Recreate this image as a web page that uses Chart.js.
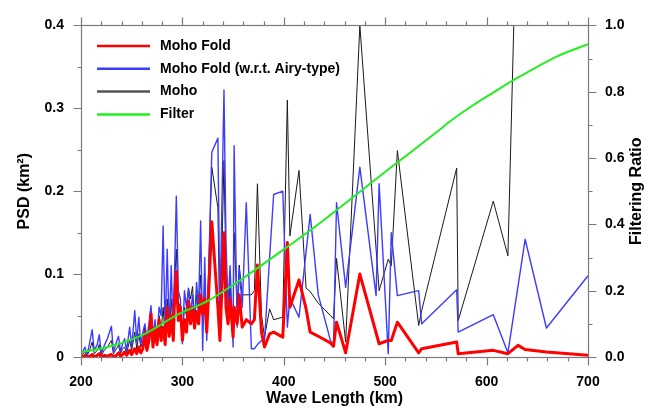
<!DOCTYPE html>
<html>
<head>
<meta charset="utf-8">
<script src="https://cdn.jsdelivr.net/npm/chart.js@4.4.0/dist/chart.umd.min.js"></script>
<style>
  html, body { margin: 0; padding: 0; background: #fff; }
  #wrap { width: 655px; height: 413px; }
</style>
</head>
<body>
<div id="wrap"><canvas id="psdChart" width="655" height="413"></canvas></div>
<script>
// Wave lengths (km) shared by the three PSD curves
const waveLength = [
  201, 204, 206, 209, 211, 213, 216, 218, 220, 223, 226, 230, 232, 235, 237, 239, 241, 243, 245, 248,
  250, 253, 255, 257, 259, 261, 263, 265, 267, 269, 271, 273, 275, 277, 279, 281, 283, 285, 287, 289,
  291, 292, 294, 296, 298, 300, 302, 304, 306, 308, 310, 312, 314, 316, 318, 320, 322, 324, 326, 329,
  335, 337, 341, 343, 345, 347, 350, 351, 354, 356, 359, 363, 368, 371, 374, 378, 381, 386, 390, 399,
  403.5, 406, 415, 422, 426, 434, 446, 449, 452, 461, 475, 491, 494, 503, 506, 512, 533, 536, 570.5, 572,
  606.6, 621, 631, 638, 659, 700
];
// PSD (km^2), null = no sample for that series
const mohoFold = [
  0.000, 0.002, 0.000, 0.001, 0.003, 0.000, 0.002, 0.004, 0.000, 0.002, 0.001, 0.003, 0.000, 0.002, 0.005, 0.001, 0.003, 0.006, 0.002, 0.008,
  0.003, 0.010, 0.004, 0.012, 0.005, 0.010, 0.030, 0.008, 0.020, 0.052, 0.012, 0.035, 0.015, 0.045, 0.020, 0.036, 0.015, 0.060, 0.025, 0.050,
  0.020, 0.060, 0.103, 0.044, 0.060, 0.020, 0.045, 0.030, 0.067, 0.040, 0.060, 0.035, 0.055, 0.040, 0.075, 0.052, 0.070, 0.030, 0.080, 0.163,
  0.060, 0.020, 0.150, 0.060, 0.040, 0.070, 0.024, 0.060, 0.040, 0.075, 0.036, 0.045, 0.040, 0.045, 0.111, 0.030, 0.012, 0.028, 0.030, 0.024,
  0.138, 0.060, 0.093, 0.058, 0.030, 0.025, 0.017, 0.013, 0.042, 0.005, 0.100, null, 0.016, 0.020, 0.020, 0.042, 0.005, 0.010, 0.018, 0.004,
  0.008, 0.004, 0.014, 0.009, 0.006, 0.002
];
const mohoFoldAiry = [
  0.005, 0.012, 0.002, 0.020, 0.033, 0.008, 0.015, 0.027, 0.004, 0.014, 0.022, 0.037, 0.006, 0.018, 0.025, 0.006, 0.016, 0.022, 0.008, 0.036,
  0.012, 0.056, 0.018, 0.048, 0.015, 0.030, 0.040, 0.022, 0.040, 0.062, 0.025, 0.045, 0.020, 0.060, 0.050, 0.158, 0.028, 0.130, 0.030, 0.110,
  0.020, 0.090, 0.194, 0.080, 0.070, 0.016, 0.080, 0.060, 0.083, 0.050, 0.075, 0.045, 0.090, 0.060, 0.164, 0.008, 0.120, 0.020, 0.110, 0.247,
  0.264, 0.052, 0.322, 0.140, 0.060, 0.110, 0.012, 0.255, 0.036, 0.107, 0.060, 0.186, 0.010, 0.010, 0.015, 0.020, 0.020, 0.120, 0.196, 0.200,
  0.036, 0.071, 0.048, null, 0.172, 0.075, 0.020, 0.012, 0.186, 0.084, 0.229, 0.074, 0.209, 0.004, 0.150, 0.074, 0.080, 0.040, 0.081, 0.030,
  0.051, 0.005, null, 0.142, 0.035, 0.098
];
const moho = [
  0.003, 0.006, 0.001, 0.010, 0.018, 0.004, 0.008, 0.015, 0.002, 0.008, 0.012, 0.020, 0.004, 0.010, 0.014, 0.004, 0.010, 0.012, 0.005, 0.020,
  0.008, 0.030, 0.010, 0.028, 0.012, 0.018, 0.035, 0.015, 0.030, 0.055, 0.020, 0.040, 0.018, 0.050, 0.030, 0.060, 0.025, 0.070, 0.028, 0.070,
  0.030, 0.085, 0.130, 0.060, 0.065, 0.025, 0.060, 0.050, 0.083, 0.070, 0.085, 0.040, 0.075, 0.050, 0.099, 0.040, 0.090, 0.030, 0.110, 0.229,
  0.180, 0.024, 0.237, 0.100, 0.040, 0.090, 0.024, 0.150, 0.060, 0.111, 0.075, 0.075, 0.075, 0.080, 0.209, 0.050, 0.024, 0.058, 0.045, 0.048,
  0.310, 0.146, 0.225, 0.083, 0.079, 0.065, 0.050, 0.046, 0.119, 0.018, 0.400, null, 0.080, 0.118, 0.110, 0.249, 0.038, 0.056, 0.228, 0.044,
  0.188, 0.122, 0.600, 0.900, 1.000, 1.200
];
// Filter curve (right axis)
const filterWave = [200, 230, 263, 296, 325, 360, 403, 436, 502, 554, 564, 587, 607, 626, 669, 700];
const filterRatio = [0.014, 0.033, 0.070, 0.129, 0.169, 0.238, 0.331, 0.405, 0.563, 0.686, 0.711, 0.760, 0.798, 0.834, 0.906, 0.943];

const seriesNames = ['Moho Fold', 'Moho Fold (w.r.t. Airy-type)', 'Moho', 'Filter'];
const xTicks = [200, 300, 400, 500, 600, 700];
const psdTicks = [0, 0.1, 0.2, 0.3, 0.4];
const ratioTicks = [0, 0.2, 0.4, 0.6, 0.8, 1.0];

const FONT = "'Liberation Sans', Arial, sans-serif";
const frameColor = '#7a7a7a';

const toPoints = (xs, ys) => xs.map((x, i) => ({ x: x, y: ys[i] }));

// tick marks on all four sides, major + minor, pointing out
function drawTickMarks(ctx, scale, majors, minorStep, sides) {
  const n = Math.round((scale.max - scale.min) / minorStep);
  for (let i = 0; i <= n; i++) {
    const v = scale.min + i * minorStep;
    const isMajor = majors.some(m => Math.abs(m - v) < minorStep / 10);
    const len = isMajor ? 8 : 4;
    const p = Math.round(scale.getPixelForValue(v)) + 0.5;
    sides.forEach(side => side(p, len));
  }
}

const framePlugin = {
  id: 'frame',
  afterDraw(chart) {
    const { ctx, chartArea: a, scales } = chart;
    const L = Math.round(a.left) + 0.5, R = Math.round(a.right) + 0.5;
    const T = Math.round(a.top) + 0.5, B = Math.round(a.bottom) + 0.5;
    ctx.save();
    ctx.strokeStyle = frameColor;
    ctx.lineWidth = 1.2;
    ctx.strokeRect(L, T, R - L, B - T);
    ctx.beginPath();
    const line = (x1, y1, x2, y2) => { ctx.moveTo(x1, y1); ctx.lineTo(x2, y2); };
    drawTickMarks(ctx, scales.x, xTicks, 20, [
      (p, len) => line(p, B, p, B + len),
      (p, len) => line(p, T, p, T - len)
    ]);
    drawTickMarks(ctx, scales.y, psdTicks, 0.05, [
      (p, len) => line(L, p, L - len, p)
    ]);
    drawTickMarks(ctx, scales.ratio, ratioTicks, 0.1, [
      (p, len) => line(R, p, R + len, p)
    ]);
    ctx.stroke();

    // right axis title, reading bottom to top
    ctx.fillStyle = '#000';
    ctx.font = 'bold 16px ' + FONT;
    ctx.textAlign = 'center';
    ctx.textBaseline = 'middle';
    ctx.translate(637, (a.top + a.bottom) / 2);
    ctx.rotate(-Math.PI / 2);
    ctx.fillText('Filtering Ratio', 0, 0);
    ctx.restore();
  }
};

const legendPlugin = {
  id: 'innerLegend',
  afterDraw(chart) {
    const { ctx } = chart;
    ctx.save();
    ctx.font = 'bold 14px ' + FONT;
    ctx.textBaseline = 'middle';
    ctx.textAlign = 'left';
    chart.data.datasets.forEach((ds, i) => {
      const y = 46 + i * 22.8;
      ctx.strokeStyle = ds.legendColor;
      ctx.lineWidth = 2.5;
      ctx.beginPath();
      ctx.moveTo(97, y);
      ctx.lineTo(150, y);
      ctx.stroke();
      ctx.fillStyle = '#000';
      ctx.fillText(seriesNames[i], 160, y);
    });
    ctx.restore();
  }
};

const tickFont = { family: FONT, size: 14, weight: 'bold' };
const titleFont = { family: FONT, size: 16, weight: 'bold' };

new Chart(document.getElementById('psdChart'), {
  type: 'line',
  data: {
    datasets: [
      {
        label: seriesNames[0],
        data: toPoints(waveLength, mohoFold),
        borderColor: '#ff0000',
        legendColor: '#ff0000',
        borderWidth: 3,
        yAxisID: 'y',
        order: 1
      },
      {
        label: seriesNames[1],
        data: toPoints(waveLength, mohoFoldAiry),
        borderColor: '#3c3cff',
        legendColor: '#3c3cff',
        borderWidth: 1.4,
        yAxisID: 'y',
        order: 2
      },
      {
        label: seriesNames[2],
        data: toPoints(waveLength, moho),
        borderColor: '#1a1a1a',
        legendColor: '#555555',
        borderWidth: 1,
        yAxisID: 'y',
        order: 3
      },
      {
        label: seriesNames[3],
        data: toPoints(filterWave, filterRatio),
        borderColor: '#22ee22',
        legendColor: '#22ee22',
        borderWidth: 2,
        tension: 0.3,
        yAxisID: 'ratio',
        order: 0
      }
    ]
  },
  options: {
    responsive: false,
    animation: false,
    spanGaps: true,
    layout: { padding: { top: 19, left: 0, right: 0, bottom: 0 } },
    elements: { point: { radius: 0 }, line: { tension: 0, borderJoinStyle: 'round' } },
    plugins: {
      legend: { display: false },
      tooltip: { enabled: false }
    },
    scales: {
      x: {
        type: 'linear',
        position: 'bottom',
        min: 200,
        max: 700,
        afterBuildTicks: s => { s.ticks = xTicks.map(v => ({ value: v })); },
        afterFit: s => { s.height = 56; },
        ticks: { font: tickFont, color: '#000', padding: 17, maxRotation: 0, autoSkip: false },
        grid: { display: false, drawTicks: false },
        border: { display: false },
        title: { display: true, text: 'Wave Length (km)', font: titleFont, color: '#000', padding: { top: 0, bottom: 5 } }
      },
      y: {
        type: 'linear',
        position: 'left',
        min: 0,
        max: 0.4,
        afterBuildTicks: s => { s.ticks = psdTicks.map(v => ({ value: v })); },
        afterFit: s => { s.width = 81; },
        ticks: {
          font: tickFont, color: '#000', padding: 17,
          callback: v => (v === 0 ? '0' : v.toFixed(1))
        },
        grid: { display: false, drawTicks: false },
        border: { display: false },
        title: { display: true, text: 'PSD (km²)', font: titleFont, color: '#000', padding: { top: 15, bottom: 0 } }
      },
      ratio: {
        type: 'linear',
        position: 'right',
        min: 0,
        max: 1,
        afterBuildTicks: s => { s.ticks = ratioTicks.map(v => ({ value: v })); },
        afterFit: s => { s.width = 67; },
        ticks: { font: tickFont, color: '#000', padding: 17, callback: v => v.toFixed(1) },
        grid: { display: false, drawTicks: false },
        border: { display: false }
      }
    }
  },
  plugins: [framePlugin, legendPlugin]
});
</script>
</body>
</html>
